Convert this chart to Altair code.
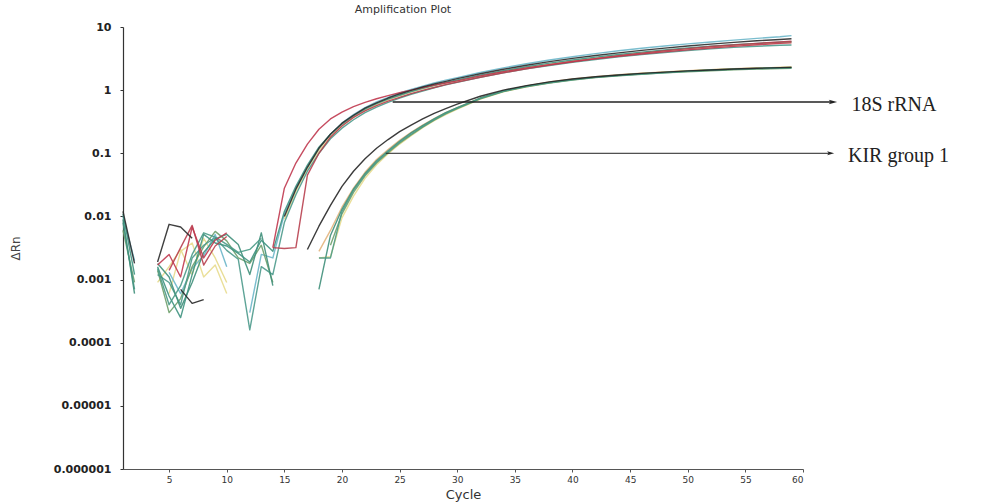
import altair as alt
import pandas as pd

N = None
CYCLES = list(range(1, 31)) + list(range(32, 59, 2)) + [59]

# ---- 18S rRNA wells (dRn per cycle; None = not plotted / non-positive) ----
S1_RED = [N, N, N, 0.0017, 0.0025, 0.0011, 0.0068, 0.0022, 0.0042, 0.0055,
          N, N, N, 0.0032, 0.028, 0.07, 0.14, 0.24, 0.35, 0.45,
          0.55, 0.64, 0.73, 0.82, 0.91, 1.0, 1.1, 1.2, 1.3, 1.4,
          1.68, 1.96, 2.25, 2.54, 2.84, 3.14, 3.44, 3.74, 4.04, 4.34, 4.64, 4.94, 5.24, 5.5, 5.6]
S2_RED = [N, N, N, N, 0.0014, 0.0032, 0.0072, 0.0017, 0.0034, 0.0048,
          N, N, N, 0.0032, 0.0031, 0.0032, 0.045, 0.1, 0.18, 0.27,
          0.37, 0.47, 0.57, 0.67, 0.77, 0.88, 0.99, 1.1, 1.22, 1.34,
          1.6, 1.88, 2.18, 2.5, 2.82, 3.15, 3.5, 3.85, 4.2, 4.55, 4.9, 5.2, 5.5, 5.8, 5.95]
S3_TEAL = [0.011, 0.0012, N, 0.0016, 0.00055, 0.00025, 0.0012, 0.0052, 0.0038, 0.0034,
           0.0026, 0.0019, 0.0042, 0.0028, 0.012, 0.03, 0.065, 0.125, 0.2, 0.29,
           0.39, 0.5, 0.61, 0.72, 0.83, 0.95, 1.07, 1.19, 1.32, 1.45,
           1.73, 2.03, 2.35, 2.68, 3.0, 3.33, 3.66, 4.0, 4.33, 4.65, 4.95, 5.25, 5.5, 5.75, 5.85]
S4_TEAL = [0.008, 0.0007, N, 0.0012, 0.0009, 0.0004, 0.0022, 0.0035, 0.0046, 0.0029,
           0.0021, 0.00016, 0.0016, 0.0012, 0.008, 0.022, 0.052, 0.1, 0.17, 0.25,
           0.34, 0.44, 0.54, 0.64, 0.75, 0.86, 0.97, 1.09, 1.21, 1.33,
           1.6, 1.88, 2.17, 2.46, 2.76, 3.06, 3.36, 3.66, 3.95, 4.25, 4.5, 4.75, 4.95, 5.15, 5.2]
S5_CYAN = [0.01, 0.002, N, N, 0.0013, 0.0006, 0.0015, 0.0024, 0.0052, 0.0016,
           N, 0.0003, 0.0025, 0.0022, 0.011, 0.028, 0.062, 0.12, 0.2, 0.3,
           0.41, 0.53, 0.65, 0.77, 0.9, 1.03, 1.16, 1.3, 1.44, 1.58,
           1.9, 2.25, 2.62, 3.0, 3.38, 3.78, 4.2, 4.6, 5.0, 5.4, 5.8, 6.2, 6.6, 7.0, 7.3]
S6_BLACK = [0.012, 0.0018, N, 0.0019, 0.0075, 0.0068, 0.0045, N, N, N,
            N, N, N, N, 0.01, 0.027, 0.06, 0.12, 0.2, 0.3,
            0.4, 0.52, 0.63, 0.75, 0.87, 0.99, 1.12, 1.25, 1.38, 1.52,
            1.82, 2.14, 2.48, 2.83, 3.18, 3.54, 3.9, 4.27, 4.63, 5.0, 5.35, 5.7, 6.05, 6.35, 6.5]
S7_YELLOW = [N, N, N, 0.0009, 0.0016, 0.003, 0.0012, 0.0045, 0.0022, 0.0009,
             N, N, N, N, 0.009, 0.025, 0.057, 0.11, 0.185, 0.275,
             0.37, 0.48, 0.59, 0.7, 0.81, 0.93, 1.05, 1.17, 1.29, 1.41,
             1.68, 1.97, 2.27, 2.58, 2.9, 3.22, 3.55, 3.88, 4.2, 4.52, 4.83, 5.12, 5.38, 5.62, 5.72]

# ---- KIR group 1 wells ----
K1_BLACK = [N, N, N, N, N, 0.0007, 0.00042, 0.00048, N, N,
            N, N, N, N, N, N, 0.003, 0.007, 0.015, 0.03,
            0.052, 0.082, 0.12, 0.165, 0.22, 0.28, 0.35, 0.43, 0.51, 0.6,
            0.8, 1.0, 1.18, 1.35, 1.5, 1.63, 1.74, 1.84, 1.93, 2.02, 2.09, 2.16, 2.22, 2.27, 2.29]
K2_TEAL = [N, N, N, 0.0015, 0.0004, 0.0008, 0.0025, 0.0055, 0.0047, 0.0036,
           0.0027, 0.003, 0.0045, N, N, N, N, 0.0022, 0.0022, 0.012,
           0.026, 0.046, 0.073, 0.106, 0.15, 0.2, 0.265, 0.34, 0.43, 0.52,
           0.74, 0.96, 1.15, 1.31, 1.46, 1.59, 1.7, 1.8, 1.89, 1.98, 2.06, 2.13, 2.19, 2.24, 2.26]
K3_TEAL = [0.009, 0.0006, N, 0.0018, 0.0011, 0.00035, 0.0009, 0.0027, 0.0044, 0.0052,
           0.0036, 0.0012, 0.0055, 0.0008, N, N, N, 0.0007, 0.005, 0.013,
           0.027, 0.048, 0.076, 0.11, 0.155, 0.21, 0.275, 0.35, 0.44, 0.53,
           0.75, 0.97, 1.16, 1.33, 1.48, 1.61, 1.72, 1.82, 1.91, 2.0, 2.08, 2.15, 2.21, 2.26, 2.28]
K4_YELLOW = [N, N, N, N, 0.0006, 0.0028, 0.0038, 0.0011, 0.0017, 0.0006,
             N, N, N, N, N, N, N, 0.0022, 0.0023, 0.0095,
             0.021, 0.04, 0.066, 0.098, 0.14, 0.19, 0.255, 0.33, 0.41, 0.5,
             0.72, 0.94, 1.13, 1.31, 1.47, 1.6, 1.72, 1.83, 1.93, 2.02, 2.1, 2.17, 2.23, 2.28, 2.3]
K5_GREEN = [0.006, 0.0009, N, 0.0014, 0.0003, 0.0005, 0.0016, 0.0033, 0.0058, 0.0041,
            0.0022, 0.0018, 0.0035, 0.0009, N, N, N, N, 0.0035, 0.011,
            0.024, 0.044, 0.07, 0.102, 0.145, 0.195, 0.26, 0.335, 0.42, 0.51,
            0.73, 0.95, 1.13, 1.3, 1.45, 1.58, 1.69, 1.79, 1.88, 1.96, 2.03, 2.1, 2.15, 2.19, 2.21]
K6_TAN = [N, N, N, N, N, N, N, N, N, N,
          N, N, N, N, N, N, N, 0.0028, 0.006, 0.014,
          0.028, 0.05, 0.08, 0.115, 0.16, 0.215, 0.28, 0.355, 0.44, 0.53,
          0.75, 0.97, 1.17, 1.35, 1.5, 1.63, 1.75, 1.85, 1.94, 2.03, 2.11, 2.18, 2.24, 2.29, 2.32]

CURVES = [
    ("K6", "#e3b47c", 1.4, K6_TAN),
    ("S7", "#e6d98a", 1.4, S7_YELLOW),
    ("K4", "#e8dc8e", 1.5, K4_YELLOW),
    ("S5", "#6cb6c9", 1.8, S5_CYAN),
    ("K5", "#6e9f6a", 2.0, K5_GREEN),
    ("S4", "#4c9a8c", 2.3, S4_TEAL),
    ("K3", "#3f8f7a", 2.5, K3_TEAL),
    ("S3", "#3e9280", 2.5, S3_TEAL),
    ("K2", "#4a9a86", 2.2, K2_TEAL),
    ("S2", "#b8404f", 1.1, S2_RED),
    ("S1", "#c0394f", 1.0, S1_RED),
    ("S6", "#2b2b2b", 1.0, S6_BLACK),
    ("K1", "#262626", 1.1, K1_BLACK),
]

ARROW_LABELS = ["18S rRNA", "KIR group 1"]
ARROW_START = [24.4, 23.8]
ARROW_END = [62.6, 62.4]
ARROW_LEVEL = [0.65, 0.1]
LABEL_X = [64.2, 63.9]

rows = []
for k, (name, color, w, vals) in enumerate(CURVES):
    seg = 0
    prev = False
    for c, v in zip(CYCLES, vals):
        if v is None:
            if prev:
                seg += 1
            prev = False
            continue
        rows.append({"curve": name, "seg": f"{k:02d}-{name}-{seg}", "cycle": c, "value": v})
        prev = True
df = pd.DataFrame(rows)

names = [c[0] for c in CURVES]
colors = [c[1] for c in CURVES]
widths = [c[2] for c in CURVES]

yvals = [1e-6, 1e-5, 1e-4, 1e-3, 1e-2, 1e-1, 1, 10]
xscale = alt.Scale(domain=[1, 60], nice=False, zero=False)
yscale = alt.Scale(type="log", domain=[1e-6, 10], nice=False)

lines = alt.Chart(df).mark_line(opacity=0.9, strokeJoin="round").encode(
    x=alt.X("cycle:Q", scale=xscale,
            axis=alt.Axis(values=list(range(5, 61, 5)), title="Cycle", grid=False,
                          tickSize=3, labelFontSize=9, labelFont="DejaVu Sans",
                          labelColor="#333", titleFont="DejaVu Sans", titleFontSize=13,
                          titleFontWeight="normal", titleColor="#333", titlePadding=4,
                          domainColor="#555", tickColor="#555", labelPadding=3)),
    y=alt.Y("value:Q", scale=yscale,
            axis=alt.Axis(values=yvals, title="ΔRn", grid=False, tickSize=3,
                          labelExpr="datum.value >= 1 ? format(datum.value, 'd') : format(datum.value, '.' + round(-log(datum.value)/LN10) + 'f')",
                          labelFontSize=11, labelFont="DejaVu Sans", labelColor="#222",
                          labelFontWeight="bold",
                          labelPadding=9, titleFont="DejaVu Sans", titleFontSize=12,
                          titleFontWeight="normal", titleColor="#444",
                          titleX=-108, titleBaseline="middle",
                          domainColor="#333", tickColor="#333")),
    color=alt.Color("curve:N", scale=alt.Scale(domain=names, range=colors), legend=None),
    size=alt.Size("curve:N", scale=alt.Scale(domain=names, range=widths), legend=None),
    detail="seg:N",
    order="cycle:Q",
)

adf = pd.DataFrame({"label": ARROW_LABELS, "x1": ARROW_START, "x2": ARROW_END,
                    "y": ARROW_LEVEL, "lx": LABEL_X})

rules = alt.Chart(adf).mark_rule(color="#222").encode(
    x=alt.X("x1:Q", scale=xscale),
    x2="x2:Q",
    y=alt.Y("y:Q", scale=yscale),
    strokeWidth=alt.StrokeWidth("label:N", scale=alt.Scale(domain=ARROW_LABELS, range=[1.6, 1.0]), legend=None),
)

heads = alt.Chart(adf).mark_point(
    shape="M -1 -0.55 L 1 0 L -1 0.55 L -0.55 0 Z", filled=True, color="#222", opacity=1
).encode(
    x=alt.X("x2:Q", scale=xscale),
    y=alt.Y("y:Q", scale=yscale),
    size=alt.Size("label:N", scale=alt.Scale(domain=ARROW_LABELS, range=[70, 50]), legend=None),
)

texts = alt.Chart(adf).mark_text(align="left", baseline="middle", font="Liberation Serif",
                                 fontSize=20, color="#222", dy=3).encode(
    x=alt.X("lx:Q", scale=xscale),
    y=alt.Y("y:Q", scale=yscale),
    text="label:N",
)

chart = alt.layer(lines, rules, heads, texts).resolve_scale(size="independent").properties(
    width=680, height=442,
    title=alt.TitleParams("Amplification Plot", anchor="middle", dx=-60, offset=6,
                          font="DejaVu Sans", fontSize=11, fontWeight="normal", color="#333"),
    autosize=alt.AutoSizeParams(type="none"),
    padding={"left": 123, "top": 27, "right": 182, "bottom": 33},
).configure_view(stroke=None).configure_axis(domainWidth=1.2)

chart.save("out.html", embed_options={"renderer": "svg", "actions": False})
